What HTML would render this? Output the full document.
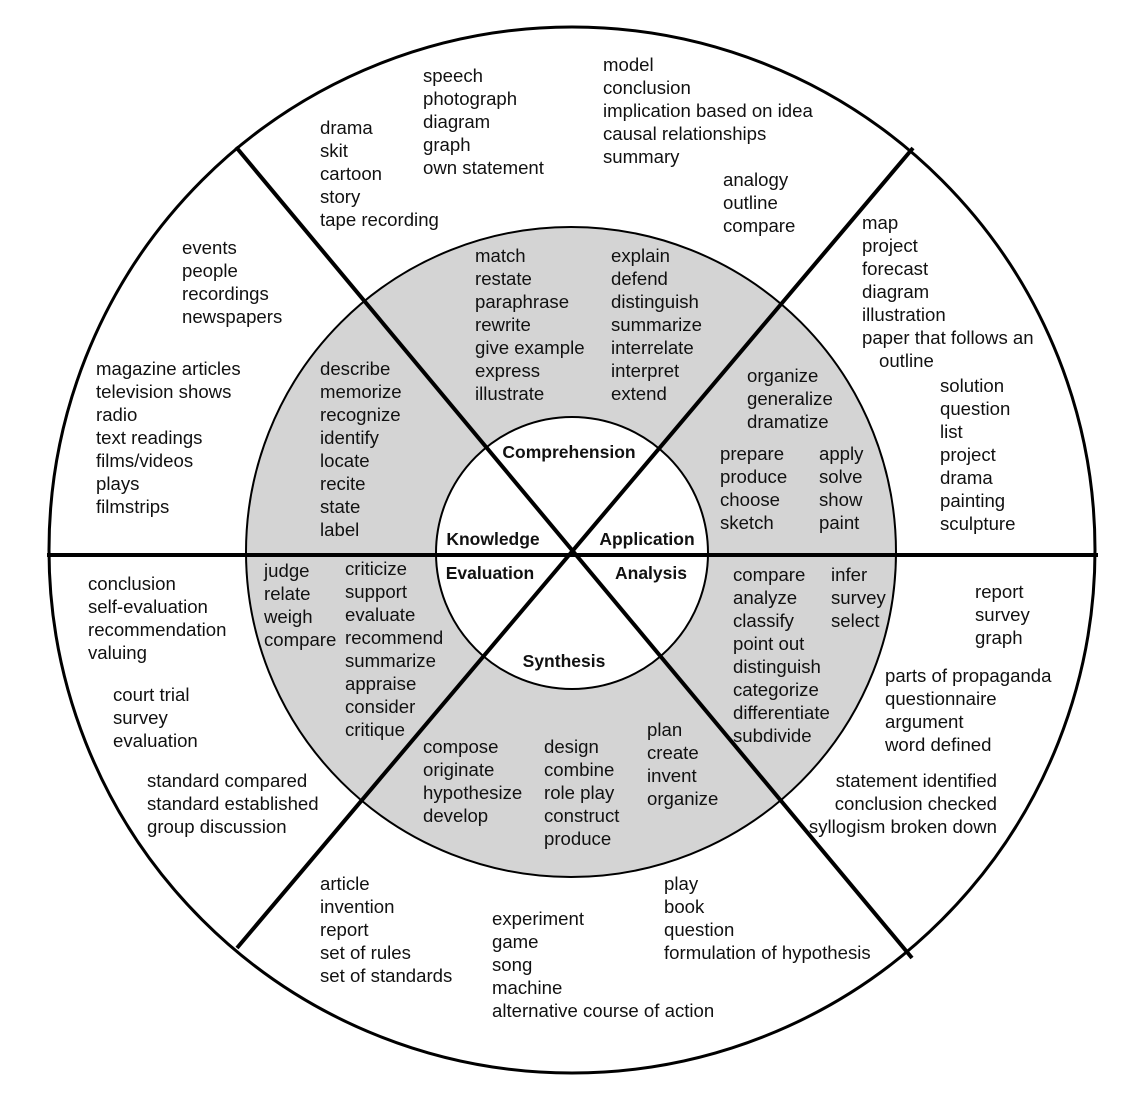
<!DOCTYPE html>
<html><head><meta charset="utf-8"><style>
html,body{margin:0;padding:0;background:#fff;}
svg{display:block}
text{font-family:"Liberation Sans","DejaVu Sans",sans-serif;font-size:18.6px;fill:#111;}
.b{font-weight:bold;font-size:17.5px;text-anchor:middle}
</style></head><body>
<svg width="1144" height="1094" viewBox="0 0 1144 1094" xmlns="http://www.w3.org/2000/svg">
<circle cx="572" cy="550" r="523" fill="#fff" stroke="#000" stroke-width="3"/>
<circle cx="571" cy="552" r="325" fill="#d4d4d4" stroke="#000" stroke-width="2"/>
<circle cx="572" cy="553" r="136" fill="#fff" stroke="#000" stroke-width="2"/>
<line x1="47" y1="555" x2="1098" y2="555" stroke="#000" stroke-width="4"/>
<line x1="236" y1="147" x2="912" y2="958" stroke="#000" stroke-width="4"/>
<line x1="913" y1="148" x2="237" y2="948" stroke="#000" stroke-width="4"/>

<g id="t">
<text x="320" y="134">drama<tspan x="320" dy="23">skit</tspan><tspan x="320" dy="23">cartoon</tspan><tspan x="320" dy="23">story</tspan><tspan x="320" dy="23">tape recording</tspan></text>
<text x="423" y="82">speech<tspan x="423" dy="23">photograph</tspan><tspan x="423" dy="23">diagram</tspan><tspan x="423" dy="23">graph</tspan><tspan x="423" dy="23">own statement</tspan></text>
<text x="603" y="71">model<tspan x="603" dy="23">conclusion</tspan><tspan x="603" dy="23">implication based on idea</tspan><tspan x="603" dy="23">causal relationships</tspan><tspan x="603" dy="23">summary</tspan></text>
<text x="723" y="186">analogy<tspan x="723" dy="23">outline</tspan><tspan x="723" dy="23">compare</tspan></text>
<text x="862" y="229">map<tspan x="862" dy="23">project</tspan><tspan x="862" dy="23">forecast</tspan><tspan x="862" dy="23">diagram</tspan><tspan x="862" dy="23">illustration</tspan><tspan x="862" dy="23">paper that follows an</tspan><tspan x="879" dy="23">outline</tspan></text>
<text x="940" y="392">solution<tspan x="940" dy="23">question</tspan><tspan x="940" dy="23">list</tspan><tspan x="940" dy="23">project</tspan><tspan x="940" dy="23">drama</tspan><tspan x="940" dy="23">painting</tspan><tspan x="940" dy="23">sculpture</tspan></text>
<text x="182" y="254">events<tspan x="182" dy="23">people</tspan><tspan x="182" dy="23">recordings</tspan><tspan x="182" dy="23">newspapers</tspan></text>
<text x="96" y="375">magazine articles<tspan x="96" dy="23">television shows</tspan><tspan x="96" dy="23">radio</tspan><tspan x="96" dy="23">text readings</tspan><tspan x="96" dy="23">films/videos</tspan><tspan x="96" dy="23">plays</tspan><tspan x="96" dy="23">filmstrips</tspan></text>

<text x="320" y="375">describe<tspan x="320" dy="23">memorize</tspan><tspan x="320" dy="23">recognize</tspan><tspan x="320" dy="23">identify</tspan><tspan x="320" dy="23">locate</tspan><tspan x="320" dy="23">recite</tspan><tspan x="320" dy="23">state</tspan><tspan x="320" dy="23">label</tspan></text>
<text x="475" y="262">match<tspan x="475" dy="23">restate</tspan><tspan x="475" dy="23">paraphrase</tspan><tspan x="475" dy="23">rewrite</tspan><tspan x="475" dy="23">give example</tspan><tspan x="475" dy="23">express</tspan><tspan x="475" dy="23">illustrate</tspan></text>
<text x="611" y="262">explain<tspan x="611" dy="23">defend</tspan><tspan x="611" dy="23">distinguish</tspan><tspan x="611" dy="23">summarize</tspan><tspan x="611" dy="23">interrelate</tspan><tspan x="611" dy="23">interpret</tspan><tspan x="611" dy="23">extend</tspan></text>
<text x="747" y="382">organize<tspan x="747" dy="23">generalize</tspan><tspan x="747" dy="23">dramatize</tspan></text>
<text x="720" y="460">prepare<tspan x="720" dy="23">produce</tspan><tspan x="720" dy="23">choose</tspan><tspan x="720" dy="23">sketch</tspan></text>
<text x="819" y="460">apply<tspan x="819" dy="23">solve</tspan><tspan x="819" dy="23">show</tspan><tspan x="819" dy="23">paint</tspan></text>

<text class="b" x="569" y="458">Comprehension</text>
<text class="b" x="493" y="545">Knowledge</text>
<text class="b" x="647" y="545">Application</text>
<text class="b" x="490" y="579">Evaluation</text>
<text class="b" x="651" y="579">Analysis</text>
<text class="b" x="564" y="667">Synthesis</text>

<text x="264" y="577">judge<tspan x="264" dy="23">relate</tspan><tspan x="264" dy="23">weigh</tspan><tspan x="264" dy="23">compare</tspan></text>
<text x="345" y="575">criticize<tspan x="345" dy="23">support</tspan><tspan x="345" dy="23">evaluate</tspan><tspan x="345" dy="23">recommend</tspan><tspan x="345" dy="23">summarize</tspan><tspan x="345" dy="23">appraise</tspan><tspan x="345" dy="23">consider</tspan><tspan x="345" dy="23">critique</tspan></text>
<text x="733" y="581">compare<tspan x="733" dy="23">analyze</tspan><tspan x="733" dy="23">classify</tspan><tspan x="733" dy="23">point out</tspan><tspan x="733" dy="23">distinguish</tspan><tspan x="733" dy="23">categorize</tspan><tspan x="733" dy="23">differentiate</tspan><tspan x="733" dy="23">subdivide</tspan></text>
<text x="831" y="581">infer<tspan x="831" dy="23">survey</tspan><tspan x="831" dy="23">select</tspan></text>
<text x="423" y="753">compose<tspan x="423" dy="23">originate</tspan><tspan x="423" dy="23">hypothesize</tspan><tspan x="423" dy="23">develop</tspan></text>
<text x="544" y="753">design<tspan x="544" dy="23">combine</tspan><tspan x="544" dy="23">role play</tspan><tspan x="544" dy="23">construct</tspan><tspan x="544" dy="23">produce</tspan></text>
<text x="647" y="736">plan<tspan x="647" dy="23">create</tspan><tspan x="647" dy="23">invent</tspan><tspan x="647" dy="23">organize</tspan></text>

<text x="88" y="590">conclusion<tspan x="88" dy="23">self-evaluation</tspan><tspan x="88" dy="23">recommendation</tspan><tspan x="88" dy="23">valuing</tspan></text>
<text x="113" y="701">court trial<tspan x="113" dy="23">survey</tspan><tspan x="113" dy="23">evaluation</tspan></text>
<text x="147" y="787">standard compared<tspan x="147" dy="23">standard established</tspan><tspan x="147" dy="23">group discussion</tspan></text>
<text x="975" y="598">report<tspan x="975" dy="23">survey</tspan><tspan x="975" dy="23">graph</tspan></text>
<text x="885" y="682">parts of propaganda<tspan x="885" dy="23">questionnaire</tspan><tspan x="885" dy="23">argument</tspan><tspan x="885" dy="23">word defined</tspan></text>
<text x="997" y="787" text-anchor="end">statement identified<tspan x="997" dy="23">conclusion checked</tspan><tspan x="997" dy="23">syllogism broken down</tspan></text>
<text x="320" y="890">article<tspan x="320" dy="23">invention</tspan><tspan x="320" dy="23">report</tspan><tspan x="320" dy="23">set of rules</tspan><tspan x="320" dy="23">set of standards</tspan></text>
<text x="492" y="925">experiment<tspan x="492" dy="23">game</tspan><tspan x="492" dy="23">song</tspan><tspan x="492" dy="23">machine</tspan><tspan x="492" dy="23">alternative course of action</tspan></text>
<text x="664" y="890">play<tspan x="664" dy="23">book</tspan><tspan x="664" dy="23">question</tspan><tspan x="664" dy="23">formulation of hypothesis</tspan></text>
</g>
</svg>
</body></html>
